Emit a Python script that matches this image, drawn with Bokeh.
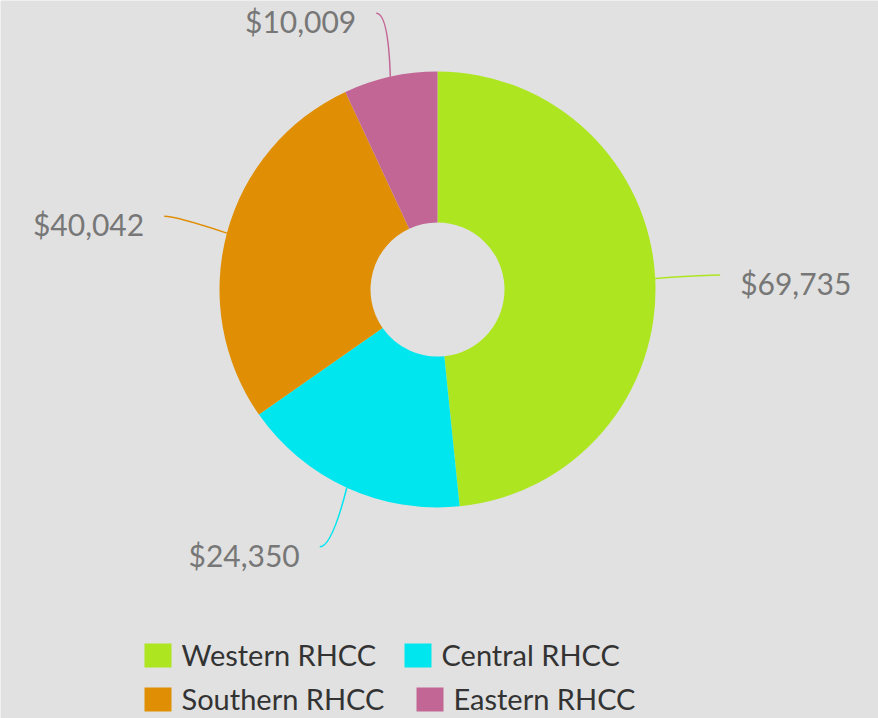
import numpy as np
from bokeh.plotting import figure
from bokeh.models import ColumnDataSource
from bokeh.core.properties import value
from bokeh.embed import file_html
from bokeh.resources import INLINE

# ---- data ----
categories = ["Western RHCC", "Central RHCC", "Southern RHCC", "Eastern RHCC"]
amounts = [69735, 24350, 40042, 10009]
labels = ["$69,735", "$24,350", "$40,042", "$10,009"]
colors = ["#ade620", "#00e6ef", "#e08f04", "#c26696"]

W, H = 878, 718
BG = "#e1e1e1"
FONT = "Lato"

p = figure(width=W, height=H, x_range=(0, W), y_range=(0, H),
           output_backend="svg", toolbar_location=None,
           x_axis_type=None, y_axis_type=None, min_border=0)
p.grid.visible = False
p.outline_line_color = None
p.background_fill_color = BG
p.border_fill_color = BG

cx, cy = 437, 429
r_in, r_out = 67, 218

vals = np.array(amounts, dtype=float)
frac = vals / vals.sum()
ang = frac * 2 * np.pi
starts = np.pi / 2 - np.concatenate([[0], np.cumsum(ang)[:-1]])
ends = starts - ang
mids = (starts + ends) / 2

src = ColumnDataSource(dict(start=starts, end=ends, color=colors))
p.annular_wedge(x=cx, y=cy, inner_radius=r_in, outer_radius=r_out,
                start_angle="start", end_angle="end", direction="clock",
                fill_color="color", line_color=None, source=src)

# ---- leader lines and labels ----
r_lab = 283
for lab, col, m in zip(labels, colors, mids):
    x0, y0 = cx + r_out * np.cos(m), cy + r_out * np.sin(m)
    x1, y1 = cx + r_lab * np.cos(m), cy + r_lab * np.sin(m)
    side = 1 if np.cos(m) > 0 else -1
    p.quadratic(x0=x0, y0=y0, x1=x1, y1=y1, cx=x1 - side * 12, cy=y1,
                line_color=col, line_width=1.5)
    p.text(x=[x1 + side * (20 if side > 0 else 20)], y=[y1 - 8], text=[lab],
           text_align="left" if side > 0 else "right", text_baseline="middle",
           text_font=value(FONT), text_font_size="30px", text_color="#777777")

# ---- legend ----
row_y = [63, 19]
sq_x = [[144, 404], [144, 416]]
for i, (cat, col) in enumerate(zip(categories, colors)):
    r, c = divmod(i, 2)
    x = sq_x[r][c]
    y = row_y[r]
    p.rect(x=[x + 13.5], y=[y], width=27, height=24, fill_color=col, line_color=None)
    p.text(x=[x + 37], y=[y + 1], text=[cat], text_align="left", text_baseline="middle",
           text_font=value(FONT), text_font_size="29px", text_color="#333333")

html = file_html(p, INLINE)
html = html.replace("<body>", '<body style="background:#e1e1e1">', 1)
open("out.html", "w").write(html)
